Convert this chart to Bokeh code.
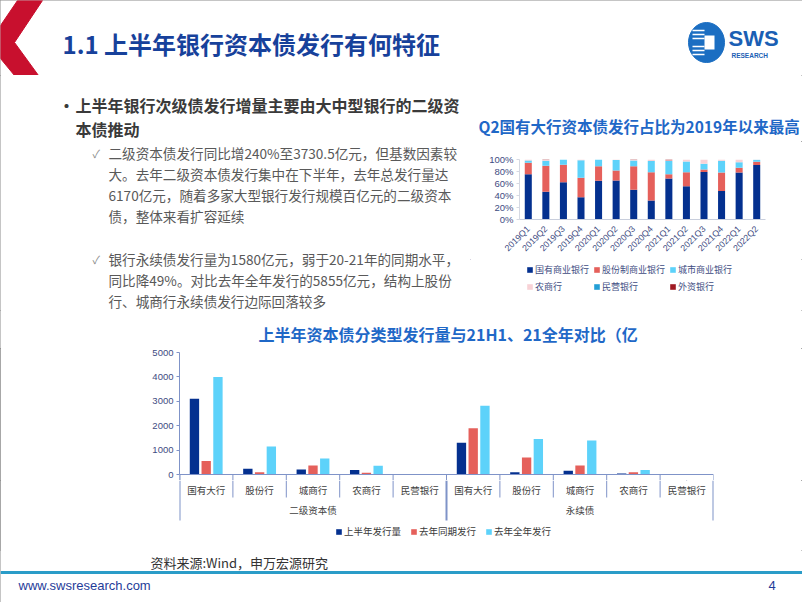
import math
from bokeh.plotting import figure
from bokeh.layouts import column, row
from bokeh.models import (Range1d, FactorRange, ColumnDataSource, Legend, LegendItem,
                          FixedTicker)
from bokeh.transform import dodge
from bokeh.core.properties import value
from bokeh.embed import file_html
from bokeh.resources import INLINE

# ---------------- data ----------------
quarters = ["2019Q1", "2019Q2", "2019Q3", "2019Q4", "2020Q1", "2020Q2", "2020Q3",
            "2020Q4", "2021Q1", "2021Q2", "2021Q3", "2021Q4", "2022Q1", "2022Q2"]
share_names = ["国有商业银行", "股份制商业银行", "城市商业银行", "农商行", "民营银行", "外资银行"]
share_state = [75.5, 46.2, 62.0, 37.0, 64.7, 65.2, 49.5, 31.5, 68.5, 55.4, 79.3, 47.3, 78.3, 90.8]
share_joint = [19.1, 43.5, 29.3, 32.6, 23.9, 16.3, 39.1, 47.3, 7.0, 23.4, 3.9, 31.0, 8.1, 5.4]
share_city = [3.8, 8.1, 8.7, 29.3, 11.4, 17.5, 9.8, 18.5, 21.8, 17.9, 9.7, 19.5, 9.2, 3.3]
share_rural = [1.6, 1.2, 0.0, 1.1, 0.0, 1.0, 0.6, 2.7, 1.5, 3.3, 7.1, 2.2, 4.4, 0.5]
share_private = [0.0, 0.0, 0.0, 0.0, 0.0, 0.0, 0.0, 0.0, 0.0, 0.0, 0.0, 0.0, 0.0, 0.0]
share_foreign = [0.0, 1.0, 0.0, 0.0, 0.0, 0.0, 1.0, 0.0, 1.2, 0.0, 0.0, 0.0, 0.0, 0.0]
pct_ticks = [0, 20, 40, 60, 80, 100]
pct_labels = ["0%", "20%", "40%", "60%", "80%", "100%"]

bond_groups = ["二级资本债", "永续债"]
bank_cats = ["国有大行", "股份行", "城商行", "农商行", "民营银行"]
series_names = ["上半年发行量", "去年同期发行", "去年全年发行"]
sub_h1 = [3100, 240, 210, 180, 0]
sub_ly_h1 = [550, 95, 370, 70, 0]
sub_ly_full = [4000, 1150, 660, 360, 0]
perp_h1 = [1300, 95, 150, 40, 0]
perp_ly_h1 = [1900, 700, 370, 95, 0]
perp_ly_full = [2820, 1460, 1390, 185, 0]
amt_ticks = [0, 1000, 2000, 3000, 4000, 5000]
amt_max = 5000

# ---------------- styles ----------------
CJK = "Noto Sans CJK SC"
LAT = "Liberation Sans"
NAVY = "#04308F"
RED = "#E5605B"
CYAN = "#5DD2FA"
PINK = "#F8D2D6"
TEAL = "#239FD6"
DRED = "#A01A22"
share_colors = [NAVY, RED, CYAN, PINK, TEAL, DRED]
AX = "#3E4C82"
SEP = "#7F93C8"


def tile(w, h):
    f = figure(width=w, height=h, x_range=Range1d(0, w), y_range=Range1d(h, 0),
               output_backend="svg", toolbar_location=None, min_border=0,
               x_axis_location=None, y_axis_location=None, frame_align=False)
    f.grid.visible = False
    f.outline_line_color = None
    f.background_fill_color = "white"
    f.border_fill_color = "white"
    return f


def txt(f, x, y, s, size, color, bold=False, font=CJK, align="left"):
    f.text(x=[x], y=[y], text=[s], text_font=value(font), text_font_size=f"{size}px",
           text_color=color, text_font_style="bold" if bold else "normal",
           text_align=align, text_baseline="middle")


# ---------------- header ----------------
hd = tile(802, 75)
hd.patch(x=[17, 42, 14, 38, 14, 0, 0], y=[0, 0, 42, 75, 75, 58, 25], color="#C8102E")
txt(hd, 62, 43, "1.1 上半年银行资本债发行有何特征", 24, "#17419B", bold=True)
hd.ellipse(x=[706], y=[42], width=36, height=40, color="#1B6EC2")
hd.segment(x0=[692] * 6, y0=[30, 34, 38, 46, 50, 54], x1=[704] * 6, y1=[30, 34, 38, 46, 50, 54],
           line_color="white", line_width=1.5)
hd.rect(x=[709], y=[42], width=10, height=14, fill_color="white", line_color=None)
txt(hd, 728, 38, "SWS", 22, "#1B5FB4", bold=True, font=LAT)
txt(hd, 731, 55, "RESEARCH", 6.5, "#1B5FB4", bold=True, font=LAT)

# ---------------- left text ----------------
lt = tile(470, 235)
B = "#3A3A3A"
G = "#595959"
txt(lt, 58, 29, "•", 16, B, bold=True)
txt(lt, 75, 29, "上半年银行次级债发行增量主要由大中型银行的二级资", 16, B, bold=True)
txt(lt, 75, 53, "本债推动", 16, B, bold=True)
para1 = ["二级资本债发行同比增240%至3730.5亿元，但基数因素较",
         "大。去年二级资本债发行集中在下半年，去年总发行量达",
         "6170亿元，随着多家大型银行发行规模百亿元的二级资本",
         "债，整体来看扩容延续"]
para2 = ["银行永续债发行量为1580亿元，弱于20-21年的同期水平，",
         "同比降49%。对比去年全年发行的5855亿元，结构上股份",
         "行、城商行永续债发行边际回落较多"]
txt(lt, 92, 77, "✓", 11, "#8C8C8C")
for i, s in enumerate(para1):
    txt(lt, 108, 77 + 21 * i, s, 13.6, G)
txt(lt, 92, 183, "✓", 11, "#8C8C8C")
for i, s in enumerate(para2):
    txt(lt, 108, 183 + 21 * i, s, 13.6, G)

# ---------------- right: title ----------------
rt = tile(332, 66)
txt(rt, 8, 50, "Q2国有大行资本债发行占比为2019年以来最高", 15.5, "#1F68C7", bold=True)

# ---------------- right: stacked share chart ----------------
src_s = ColumnDataSource(dict(q=quarters, s0=share_state, s1=share_joint, s2=share_city,
                              s3=share_rural, s4=share_private, s5=share_foreign))
pr = figure(width=332, height=118, x_range=FactorRange(*quarters), y_range=Range1d(0, 100),
            output_backend="svg", toolbar_location=None, frame_align=False,
            min_border_left=49, min_border_right=37, min_border_top=18, min_border_bottom=39)
pr.outline_line_color = None
pr.grid.visible = False
rs = pr.vbar_stack(["s0", "s1", "s2", "s3", "s4", "s5"], x="q", width=0.4,
                   color=share_colors, line_color=None, source=src_s)
pr.yaxis.ticker = FixedTicker(ticks=pct_ticks)
pr.yaxis.major_label_overrides = dict(zip(pct_ticks, pct_labels))
pr.yaxis.major_label_text_font = LAT
pr.yaxis.major_label_text_font_size = "9.5px"
pr.yaxis.major_label_text_color = AX
pr.yaxis.axis_line_color = "#D5D9E3"
pr.yaxis.major_tick_line_color = "#D5D9E3"
pr.yaxis.major_tick_out = 3
pr.yaxis.major_tick_in = 0
pr.yaxis.minor_tick_line_color = None
pr.yaxis.major_label_standoff = 3
pr.xaxis.major_label_orientation = math.pi / 4
pr.xaxis.major_label_text_font = LAT
pr.xaxis.major_label_text_font_size = "8.8px"
pr.xaxis.major_label_text_color = AX
pr.xaxis.axis_line_color = "#C8CEDC"
pr.xaxis.major_tick_line_color = None
pr.xaxis.major_label_standoff = 2

# ---------------- right: legend strip ----------------
rl = tile(332, 51)
rl_dummy = [rl.vbar(x=[-500], top=[-500], bottom=[-500], width=1, color=c, line_color=None)
            for c in share_colors]
leg_r = Legend(items=[LegendItem(label=n, renderers=[r]) for n, r in zip(share_names, rl_dummy)],
               orientation="horizontal", ncols=3, location=(56, 17),
               label_text_font=CJK, label_text_font_size="9px", label_text_color=AX,
               glyph_width=7, glyph_height=7, label_standoff=2, label_height=13,
               spacing=4, padding=0, margin=0, border_line_color=None,
               background_fill_alpha=0)
rl.add_layout(leg_r, "center")

# ---------------- bottom: title ----------------
bt = tile(802, 38)
txt(bt, 258, 23, "上半年资本债分类型发行量与21H1、21全年对比（亿", 16, "#1F68C7", bold=True)

# ---------------- bottom: grouped bar chart ----------------
factors = [(g, c) for g in bond_groups for c in bank_cats]
xr = FactorRange(*factors, group_padding=0, factor_padding=0, range_padding=0)
src_b = ColumnDataSource(dict(x=factors,
                              h1=sub_h1 + perp_h1,
                              ly=sub_ly_h1 + perp_ly_h1,
                              fy=sub_ly_full + perp_ly_full))
PB_H, PB_TOP, PB_PAD = 132, 4, 6          # pixel layout of the bar panel
y_lo = -amt_max * PB_PAD / (PB_H - PB_TOP - PB_PAD)
pb = figure(width=802, height=PB_H, x_range=xr, y_range=Range1d(y_lo, amt_max),
            output_backend="svg", toolbar_location=None, x_axis_location=None,
            frame_align=False,
            min_border_left=179, min_border_right=89, min_border_top=PB_TOP, min_border_bottom=0)
pb.outline_line_color = None
pb.grid.visible = False
for key, off, col in zip(["h1", "ly", "fy"], [-0.22, 0.0, 0.22], [NAVY, RED, CYAN]):
    pb.vbar(x=dodge("x", off, range=xr), top=key, bottom=0, width=0.175, color=col,
            line_color=None, source=src_b)
pb.yaxis.ticker = FixedTicker(ticks=amt_ticks)
pb.yaxis.bounds = (0, amt_max)
pb.yaxis.major_label_text_font = LAT
pb.yaxis.major_label_text_font_size = "9.5px"
pb.yaxis.major_label_text_color = AX
pb.yaxis.axis_line_color = SEP
pb.yaxis.major_tick_line_color = SEP
pb.yaxis.major_tick_out = 3
pb.yaxis.major_tick_in = 0
pb.yaxis.minor_tick_line_color = None
pb.yaxis.major_label_standoff = 3
left_edge = (bond_groups[0], bank_cats[0], -0.5)
right_edge = (bond_groups[-1], bank_cats[-1], 0.5)
all_x = [(g, c, -0.5) for g in bond_groups for c in bank_cats] + [right_edge]
pb.segment(x0=[left_edge], y0=[0], x1=[right_edge], y1=[0], line_color=SEP, line_width=1)
pb.segment(x0=all_x, y0=[0] * len(all_x), x1=all_x, y1=[y_lo] * len(all_x),
           line_color=SEP, line_width=1)
pb.segment(x0=[left_edge], y0=[0], x1=[left_edge], y1=[y_lo], line_color=SEP, line_width=2)

# ---------------- bottom: category labels + legend ----------------
PL_H = 70
pl = figure(width=802, height=PL_H, x_range=xr, y_range=Range1d(PL_H, 0),
            output_backend="svg", toolbar_location=None, frame_align=False,
            x_axis_location=None, y_axis_location=None,
            min_border_left=179, min_border_right=89, min_border_top=0, min_border_bottom=0)
pl.outline_line_color = None
pl.grid.visible = False
short_x = [(g, c, -0.5) for g in bond_groups for c in bank_cats[1:]]
pl.segment(x0=short_x, y0=[0] * len(short_x), x1=short_x, y1=[17] * len(short_x),
           line_color=SEP, line_width=1)
long_x = [(g, bank_cats[0], -0.5) for g in bond_groups] + [right_edge]
pl.segment(x0=long_x, y0=[0] * len(long_x), x1=long_x, y1=[40] * len(long_x),
           line_color=SEP, line_width=2)
pl.text(x=factors, y=[9] * len(factors), text=[c for _, c in factors],
        text_font=value(CJK), text_font_size="9.5px", text_color="#404040",
        text_align="center", text_baseline="middle")
pl.text(x=bond_groups, y=[29] * len(bond_groups), text=bond_groups,
        text_font=value(CJK), text_font_size="9.5px", text_color="#404040",
        text_align="center", text_baseline="middle")
pl_dummy = [pl.vbar(x=[factors[-1]], top=[-500], bottom=[-500], width=0.01, color=c,
                    line_color=None) for c in [NAVY, RED, CYAN]]
leg_b = Legend(items=[LegendItem(label=n, renderers=[r]) for n, r in zip(series_names, pl_dummy)],
               orientation="horizontal", location=(156, 12),
               label_text_font=CJK, label_text_font_size="9.5px", label_text_color="#3A3A3A",
               glyph_width=7, glyph_height=7, label_standoff=2, label_height=12,
               spacing=9, padding=0, margin=0, border_line_color=None,
               background_fill_alpha=0)
pl.add_layout(leg_b, "center")

# ---------------- footer ----------------
ft = tile(802, 52)
txt(ft, 150, 12, "资料来源:Wind，申万宏源研究", 13, "#333333")
ft.segment(x0=[0], y0=[22], x1=[802], y1=[22], line_color="#2A9CC8", line_width=3)
txt(ft, 18, 35, "www.swsresearch.com", 13, "#1F3C99", font=LAT)
txt(ft, 768, 35, "4", 13, "#1F3C99", font=LAT)

right_col = column(rt, pr, rl, spacing=0)
page = column(hd, row(lt, right_col, spacing=0), bt, pb, pl, ft, spacing=0,
              styles={"outline": "1px solid #8a8a8a", "outline-offset": "-1px"})

open("out.html", "w").write(file_html(page, INLINE))
